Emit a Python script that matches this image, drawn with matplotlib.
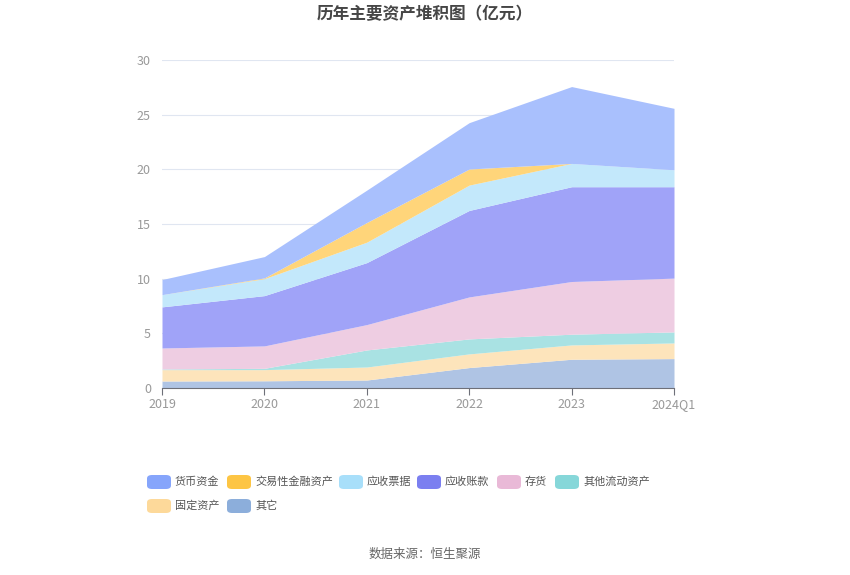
import numpy as np
import matplotlib
matplotlib.use('Agg')
import matplotlib.pyplot as plt
from matplotlib.patches import FancyBboxPatch

plt.rcParams['font.family'] = ['Noto Sans CJK SC', 'DejaVu Sans']

# 数据（亿元），自底向上堆叠
periods = ['2019', '2020', '2021', '2022', '2023', '2024Q1']
other = [0.64, 0.66, 0.73, 1.87, 2.63, 2.69]          # 其它
fixed_assets = [1.04, 1.02, 1.19, 1.25, 1.31, 1.43]   # 固定资产
other_current = [0.06, 0.12, 1.56, 1.37, 0.98, 1.01]  # 其他流动资产
inventory = [1.92, 2.05, 2.32, 3.84, 4.82, 4.92]      # 存货
receivables = [3.76, 4.60, 5.67, 7.91, 8.67, 8.36]    # 应收账款
notes_recv = [1.12, 1.55, 1.87, 2.32, 2.13, 1.55]     # 应收票据
trading_fin = [0.00, 0.07, 1.80, 1.47, 0.00, 0.00]    # 交易性金融资产
cash = [1.38, 1.95, 2.96, 4.24, 7.03, 5.62]           # 货币资金

# 图例顺序
legend_names = ['货币资金', '交易性金融资产', '应收票据', '应收账款', '存货', '其他流动资产', '固定资产', '其它']
legend_colors = ['#86a5fb', '#fdc544', '#a8dffa', '#7b7ff0', '#e9b9d7', '#86d7d9', '#fdd99a', '#8caedb']
area_colors = ['#a9c0fd', '#ffd57a', '#c3e8fb', '#a0a3f8', '#eecde2', '#a9e2e3', '#fde4bb', '#afc4e4']

stack_series = [other, fixed_assets, other_current, inventory, receivables, notes_recv, trading_fin, cash]
stack_colors = area_colors[::-1]

fig = plt.figure(figsize=(8.5, 5.75), dpi=100)
ax = fig.add_axes([162 / 850, 1 - 388 / 575, 512 / 850, 328 / 575])

x = np.arange(len(periods))
base = np.zeros(len(periods))
for vals, col in zip(stack_series, stack_colors):
    top = base + np.array(vals)
    ax.fill_between(x, base, top, color=col, linewidth=0, zorder=2)
    base = top

ax.set_xlim(0, len(periods) - 1)
ax.set_ylim(0, 30)
ax.set_yticks([0, 5, 10, 15, 20, 25, 30])
ax.set_xticks(x)
ax.set_xticklabels(periods)
ax.grid(axis='y', color='#e0e6f1', linewidth=0.8, zorder=1)
for s in ['top', 'right', 'left']:
    ax.spines[s].set_visible(False)
ax.spines['bottom'].set_color('#6e7079')
ax.tick_params(axis='y', length=0, colors='#999999', labelsize=9, pad=8)
ax.tick_params(axis='x', length=5, color='#6e7079', colors='#999999', labelsize=9, pad=2)

fig.text(0.5, 1 - 14 / 575, '历年主要资产堆积图（亿元）', ha='center', va='center',
         fontsize=12, fontweight='bold', color='#464646')

# 图例（手动排布）
leg_pos = [(147, 482), (227, 482), (339, 482), (417, 482), (497, 482), (555, 482),
           (147, 506), (227, 506)]
for name, col, (px, py) in zip(legend_names, legend_colors, leg_pos):
    fig.patches.append(FancyBboxPatch((px / 850, 1 - (py + 7) / 575), 24 / 850, 14 / 575,
                                      boxstyle='round,pad=0,rounding_size=0.006',
                                      transform=fig.transFigure, facecolor=col,
                                      edgecolor='none'))
    fig.text((px + 28) / 850, 1 - py / 575, name, ha='left', va='center',
             fontsize=8, color='#555555')

fig.text(0.5, 1 - 554 / 575, '数据来源：恒生聚源', ha='center', va='center',
         fontsize=9, color='#666666')

fig.savefig('out.png', dpi=100)
